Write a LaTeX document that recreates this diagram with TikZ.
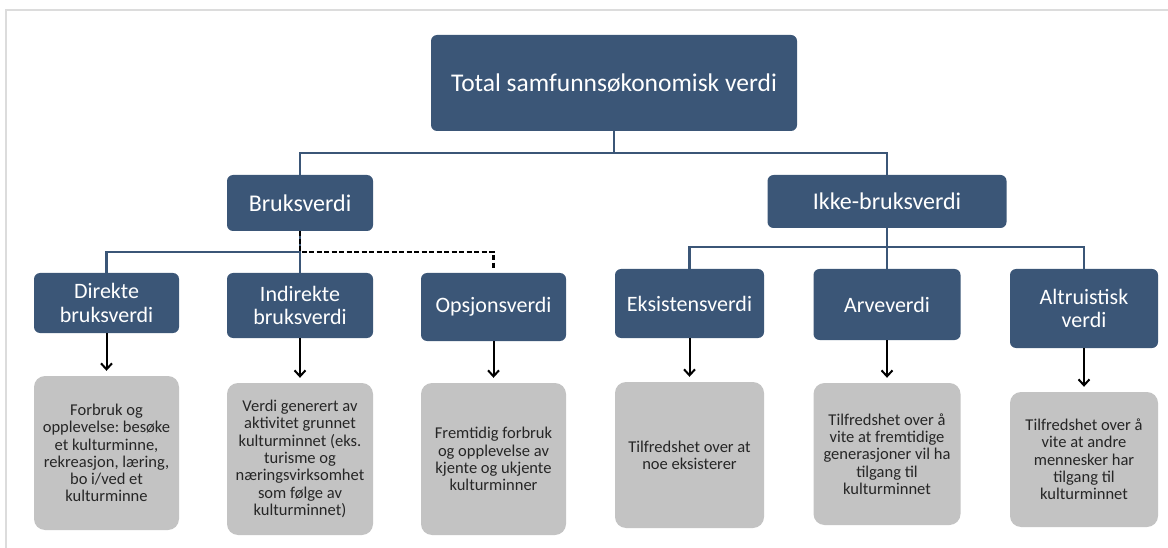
\documentclass[tikz,border=0pt]{standalone}
\usepackage{fontspec}
\setmainfont{Carlito}
\usetikzlibrary{arrows.meta}
\definecolor{boxblue}{HTML}{3B5677}
\definecolor{boxgray}{HTML}{C3C3C3}
\definecolor{framegray}{HTML}{DCDCDC}
\definecolor{txtdark}{HTML}{262626}
\tikzset{
  bluebox/.style={fill=boxblue, draw=none, rounded corners=6pt, text=white, align=center, inner sep=1pt},
  graybox/.style={fill=boxgray, draw=none, rounded corners=11pt, text=txtdark, align=center, inner sep=1pt,
     font=\fontsize{16.5}{17.3}\selectfont},
  subtitle/.style={bluebox, font=\fontsize{22}{23.5}\selectfont},
  conn/.style={draw=boxblue, line width=2.2pt},
  dashconn/.style={draw=black, line width=2.2pt, dash pattern=on 5pt off 2.5pt},
  arr/.style={draw=black, line width=2pt, -{Straight Barb[length=6pt,width=11pt,line width=2pt]}, shorten >=5pt},
}
\begin{document}
\frenchspacing
\begin{tikzpicture}[x=1pt,y=-1pt]
\useasboundingbox (0,0) rectangle (1168,548);
\draw[framegray, line width=2pt] (1168,10) -- (6,10) -- (6,548);

\node[bluebox, minimum width=366pt, minimum height=96pt, font=\fontsize{25.5}{30}\selectfont] (top) at (614,83) {Total samfunnsøkonomisk verdi};
\node[bluebox, minimum width=146pt, minimum height=56pt, font=\fontsize{24}{28}\selectfont] (bruk) at (300,203) {Bruksverdi};
\node[bluebox, minimum width=239pt, minimum height=53pt, font=\fontsize{24}{28}\selectfont] (ikke) at (887,201.5) {Ikke-bruksverdi};

\node[subtitle, minimum width=145pt, minimum height=60pt] (direkte) at (106.5,303) {Direkte\\bruksverdi};
\node[subtitle, minimum width=146pt, minimum height=65pt] (indirekte) at (300,305.5) {Indirekte\\bruksverdi};
\node[subtitle, minimum width=145pt, minimum height=68pt] (opsjon) at (493.5,307) {Opsjonsverdi};
\node[subtitle, minimum width=149pt, minimum height=69pt] (eks) at (689.5,303.5) {Eksistensverdi};
\node[subtitle, minimum width=147pt, minimum height=71pt] (arve) at (887,304.5) {Arveverdi};
\node[subtitle, minimum width=148pt, minimum height=79pt] (alt) at (1084,308.5) {Altruistisk\\verdi};

\node[graybox, minimum width=145pt, minimum height=154pt] (direktetxt) at (106.5,453) {Forbruk og\\opplevelse: besøke\\et kulturminne,\\rekreasjon, læring,\\bo i/ved et\\kulturminne};
\node[graybox, minimum width=146pt, minimum height=152pt] (indirektetxt) at (300,459) {Verdi generert av\\aktivitet grunnet\\kulturminnet (eks.\\turisme og\\næringsvirksomhet\\som følge av\\kulturminnet)};
\node[graybox, minimum width=145pt, minimum height=152pt] (opsjontxt) at (493.5,459) {Fremtidig forbruk\\og opplevelse av\\kjente og ukjente\\kulturminner};
\node[graybox, minimum width=149pt, minimum height=146pt] (ekstxt) at (689.5,455) {Tilfredshet over at\\noe eksisterer};
\node[graybox, minimum width=147pt, minimum height=142pt] (arvetxt) at (887,454) {Tilfredshet over å\\vite at fremtidige\\generasjoner vil ha\\tilgang til\\kulturminnet};
\node[graybox, minimum width=148pt, minimum height=135pt] (alttxt) at (1084,459.5) {Tilfredshet over å\\vite at andre\\mennesker har\\tilgang til\\kulturminnet};

\coordinate (j1) at (614,153);
\coordinate (j2) at (300,252);
\coordinate (j3) at (887,247);

\draw[conn] (top.south) -- (j1);
\draw[conn] (bruk.north) |- (j1) -| (ikke.north);
\draw[conn] (direkte.north) |- (j2);
\draw[conn] (bruk.south) -- (indirekte.north);
\draw[dashconn, shorten >=5pt] (bruk.south) -- (j2) -| (opsjon.north);
\draw[conn] (ikke.south) -- (arve.north);
\draw[conn] (eks.north) |- (j3) -| (alt.north);

\draw[arr] (direkte.south) -- (direktetxt.north);
\draw[arr] (indirekte.south) -- (indirektetxt.north);
\draw[arr] (opsjon.south) -- (opsjontxt.north);
\draw[arr] (eks.south) -- (ekstxt.north);
\draw[arr] (arve.south) -- (arvetxt.north);
\draw[arr] (alt.south) -- (alttxt.north);
\end{tikzpicture}
\end{document}
